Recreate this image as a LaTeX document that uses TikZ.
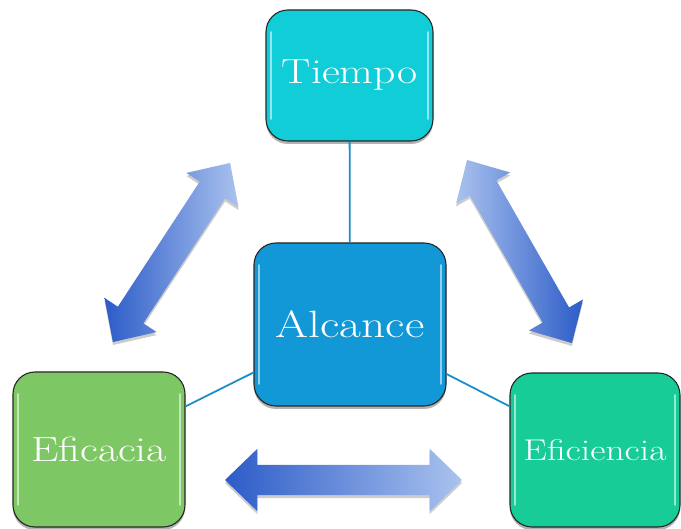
\documentclass[tikz,border=0pt]{standalone}
\usepackage{graphicx}
\usetikzlibrary{shapes.arrows,shadows}

\definecolor{tiempoC}{RGB}{17,205,215}
\definecolor{alcanceC}{RGB}{18,152,214}
\definecolor{eficaciaC}{RGB}{125,200,100}
\definecolor{eficienciaC}{RGB}{24,204,152}
\definecolor{linkC}{RGB}{28,142,202}
\definecolor{arrowDark}{RGB}{44,92,200}
\definecolor{arrowLight}{RGB}{170,194,238}

% slightly widened letters for the box labels
\newcommand{\widelabel}[1]{\scalebox{1.25}[1]{#1}}

\tikzset{
  card/.style={
    rectangle, rounded corners=22pt, draw=black!85, line width=1.1pt,
    inner sep=0pt, text=white,
    drop shadow={shadow xshift=0pt, shadow yshift=-3pt, opacity=.3, fill=black},
    path picture={
      \draw[white, opacity=.55, line width=1.8pt, line cap=round]
        ([xshift=5pt,yshift=22pt]path picture bounding box.south west) --
        ([xshift=5pt,yshift=-22pt]path picture bounding box.north west);
      \draw[white, opacity=.55, line width=1.8pt, line cap=round]
        ([xshift=-5pt,yshift=22pt]path picture bounding box.south east) --
        ([xshift=-5pt,yshift=-22pt]path picture bounding box.north east);
    }
  },
  link/.style={draw=linkC, line width=1.8pt},
  bigarrow/.style={
    double arrow, minimum width=62pt, double arrow head extend=16pt,
    double arrow tip angle=88, inner xsep=0pt, inner ysep=15pt, draw=none,
    drop shadow={shadow xshift=0pt, shadow yshift=-3pt, opacity=.2, fill=black}
  }
}

\begin{document}
\begin{tikzpicture}[x=1pt, y=-1pt]
  \useasboundingbox (0,0) rectangle (681,529);

  \path (349.5,75.5) coordinate (cT) (350,324.5) coordinate (cA)
        (99,449.5) coordinate (cE1) (595,450) coordinate (cE2);

  % boxes
  \node[card, fill=tiempoC, minimum width=167pt, minimum height=131pt,
        font=\fontsize{35}{42}\selectfont] (tie) at (cT) {\widelabel{Tiempo}};
  \node[card, fill=alcanceC, minimum width=192pt, minimum height=163pt,
        font=\fontsize{38}{45}\selectfont] (alc) at (cA) {\widelabel{Alcance}};
  \node[card, fill=eficaciaC, minimum width=172pt, minimum height=155pt,
        font=\fontsize{35}{42}\selectfont] (efa) at (cE1) {\widelabel{Eficacia}};
  \node[card, fill=eficienciaC, minimum width=170pt, minimum height=154pt,
        font=\fontsize{30}{36}\selectfont] (efi) at (cE2) {\widelabel{Eficiencia}};

  % connectors from the centre box
  \draw[link] (tie) -- (alc);
  \draw[link] (alc) -- (efa);
  \draw[link] (alc) -- (efi);

  % double arrows between the outer boxes
  \node[bigarrow, minimum height=214pt, rotate=56.8,
        left color=arrowDark, right color=arrowLight] (arrL) at (171.5,252.5) {};
  \node[bigarrow, minimum height=211pt, rotate=-60.2,
        left color=arrowLight, right color=arrowDark] (arrR) at (519.5,251.5) {};
  \node[bigarrow, minimum height=237pt,
        left color=arrowDark, right color=arrowLight] (arrB) at (343.5,480) {};
\end{tikzpicture}
\end{document}
